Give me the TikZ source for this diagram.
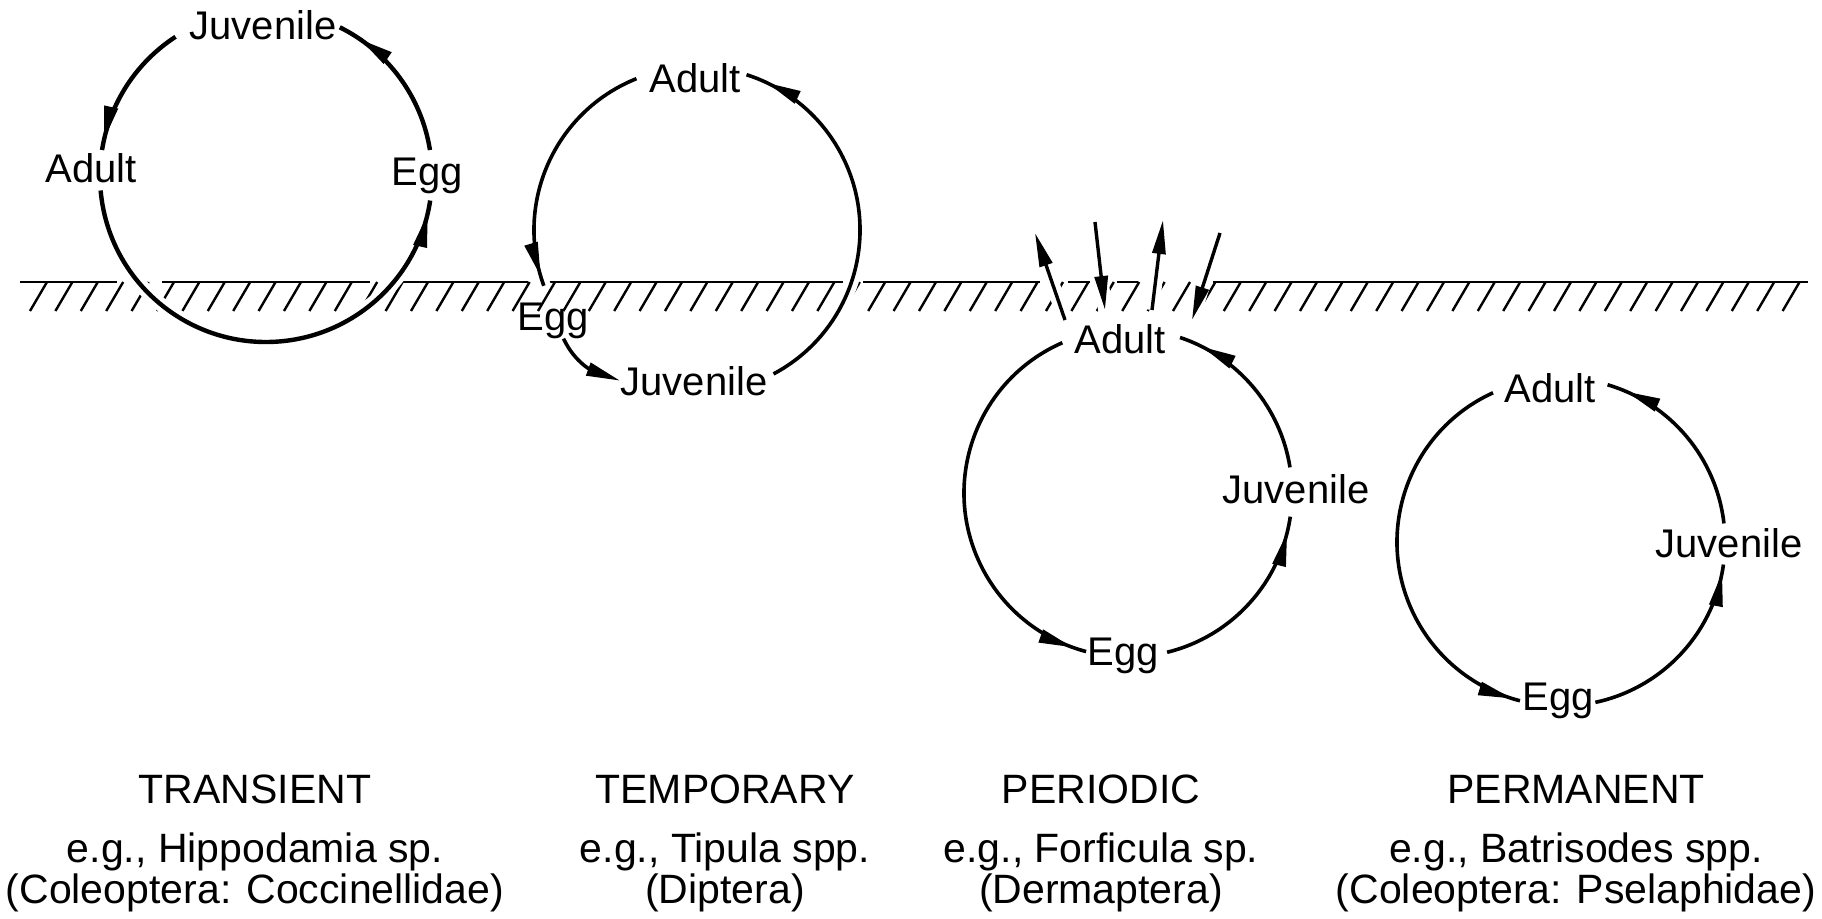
\documentclass[tikz,border=0pt]{standalone}
\usepackage{fontspec}
\setmainfont{Liberation Sans}
\usetikzlibrary{arrows.meta,decorations.markings}
\tikzset{mytip/.tip={Triangle[length=17pt,width=6.5pt]}}
\begin{document}
\begin{tikzpicture}[x=0.5pt,y=0.5pt,
  lab/.style={font=\fontsize{20}{24}\selectfont, inner sep=0pt, anchor=base},
  captxt/.style={font=\fontsize{20.5}{24}\selectfont, inner sep=0pt, anchor=base},
  cyc/.style={line width=1.8pt},
  cycbold/.style={line width=2.2pt},
  halo/.style={white, line width=7pt},
  tipat/.style={postaction={decorate}, decoration={markings, mark=at position #1 with {\arrow{mytip}}}},
  parr/.style={line width=1.7pt, -mytip},
  groundline/.style={line width=1.4pt},
  hatchline/.style={line width=1.2pt},
]
\useasboundingbox (0,0) rectangle (1822,918);

% centres of the cycles
\coordinate (tC) at (266,742);
\coordinate (tmC) at (697,688);
\coordinate (pC) at (1128,425);
\coordinate (pmC) at (1561,376);

% ground hatching
\foreach \i in {0,...,69} {\draw[hatchline] ({47+25.4*\i},636) -- ({30+25.4*\i},607);}
% ground line segments
\foreach \a/\b in {20/117,162/370,403/528,547/843,863/1040,1068/1090,1117/1138,1213/1808}
  {\draw[groundline] (\a,636) -- (\b,636);}

% periodic arrows (free ends)
\coordinate (p1s) at (1065,598); \coordinate (p1e) at (1035,685);
\coordinate (p2s) at (1095,696); \coordinate (p2e) at (1105,608);
\coordinate (p3s) at (1152,608); \coordinate (p3e) at (1163,698);
\coordinate (p4s) at (1220,685); \coordinate (p4e) at (1192,598);

% halos where paths cross the ground
\draw[halo] (tC) ++(185:166) arc[start angle=185,end angle=351.5,radius=166];
\draw[halo] (tmC) ++(111.8:163) arc[start angle=111.8,end angle=200,radius=163];
\draw[halo] (tmC) ++(-62:163) arc[start angle=-62,end angle=72.3,radius=163];
\foreach \s/\e in {p1s/p1e,p2s/p2e,p3s/p3e,p4s/p4e} {\draw[halo] (\s) -- (\e);}

% ---------- TRANSIENT ----------
\node[lab] (tjuv) at (263,878) {Juvenile};
\node[lab] (tad) at (91,735) {Adult};
\node[lab] (tegg) at (427,733) {Egg};
\draw[cycbold,tipat=-11.5pt] (tC) ++(9:166) arc[start angle=9,end angle=63.6,radius=166];
\draw[cycbold,tipat=-5pt] (tC) ++(123:166) arc[start angle=123,end angle=171,radius=166];
\draw[cycbold,tipat=-6.5pt] (tC) ++(185:166) arc[start angle=185,end angle=351.5,radius=166];

% ---------- TEMPORARY ----------
\node[lab] (tmad) at (695,825) {Adult};
\node[lab] (tmegg) at (553,588) {Egg};
\node[lab] (tmjuv) at (694,523) {Juvenile};
\draw[cyc,tipat=-5pt] (tmC) ++(111.8:163) arc[start angle=111.8,end angle=200,radius=163];
\draw[cyc,-mytip] (tmegg.-60) to[out=-65,in=160] (tmjuv.west);
\draw[cyc,tipat=-11pt] (tmC) ++(-62:163) arc[start angle=-62,end angle=72.3,radius=163];

% ---------- PERIODIC ----------
\node[lab] (pad) at (1120,565) {Adult};
\node[lab] (pegg) at (1123,253) {Egg};
\node[lab] (pjuv) at (1296,415) {Juvenile};
\draw[cyc,tipat=-7pt] (pC) ++(113.6:164) arc[start angle=113.6,end angle=255.2,radius=164];
\draw[cyc,tipat=-8pt] (pC) ++(283.8:164) arc[start angle=283.8,end angle=351.7,radius=164];
\draw[cyc,tipat=-12pt] (pC) ++(9:164) arc[start angle=9,end angle=71.5,radius=164];
\foreach \s/\e in {p1s/p1e,p2s/p2e,p3s/p3e,p4s/p4e} {\draw[parr] (\s) -- (\e);}

% ---------- PERMANENT ----------
\node[lab] (pmad) at (1550,516) {Adult};
\node[lab] (pmegg) at (1558,208) {Egg};
\node[lab] (pmjuv) at (1729,361) {Juvenile};
\draw[cyc,tipat=-4pt] (pmC) ++(114.5:164) arc[start angle=114.5,end angle=255.5,radius=164];
\draw[cyc,tipat=-4pt] (pmC) ++(282.1:164) arc[start angle=282.1,end angle=352.1,radius=164];
\draw[cyc,tipat=-10pt] (pmC) ++(6.5:164) arc[start angle=6.5,end angle=73.5,radius=164];

% ---------- captions ----------
\node[captxt] (c1a) at (255,115) {TRANSIENT};
\node[captxt] (c1b) at (255,56) {e.g., Hippodamia sp.};
\node[captxt] (c1c) at (255,15) {(Coleoptera: Coccinellidae)};
\node[captxt] (c2a) at (725,115) {TEMPORARY};
\node[captxt] (c2b) at (725,56) {e.g., Tipula spp.};
\node[captxt] (c2c) at (725,15) {(Diptera)};
\node[captxt] (c3a) at (1101,115) {PERIODIC};
\node[captxt] (c3b) at (1101,56) {e.g., Forficula sp.};
\node[captxt] (c3c) at (1101,15) {(Dermaptera)};
\node[captxt] (c4a) at (1576,115) {PERMANENT};
\node[captxt] (c4b) at (1576,56) {e.g., Batrisodes spp.};
\node[captxt] (c4c) at (1576,15) {(Coleoptera: Pselaphidae)};
\end{tikzpicture}
\end{document}
